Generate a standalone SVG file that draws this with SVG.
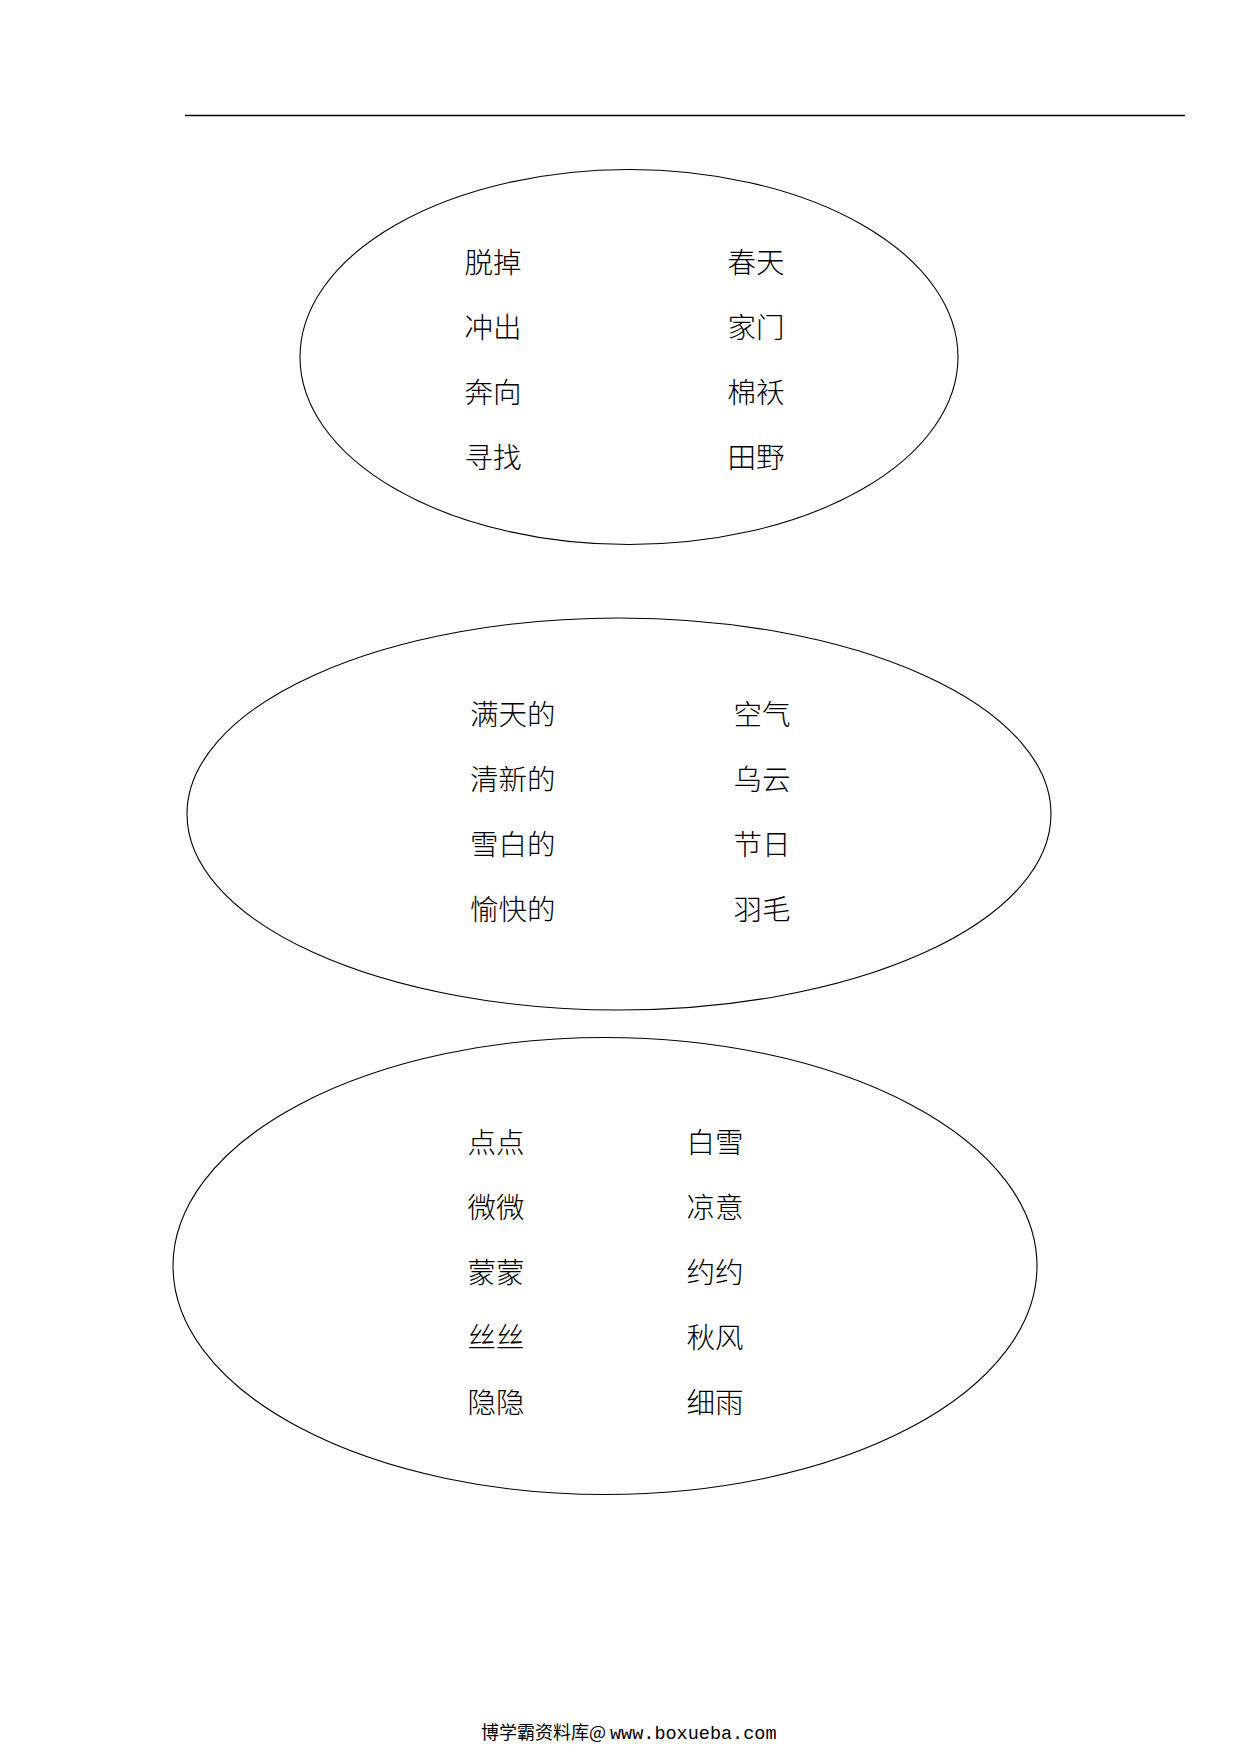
<svg xmlns="http://www.w3.org/2000/svg" width="1241" height="1754" viewBox="0 0 1241 1754">
<style>
.bg{fill:#ffffff}
.oval{fill:none;stroke:#000000;stroke-width:1.1}
.rule{stroke:#000000;stroke-width:1.6}
.w{font-family:"Noto Sans CJK SC","Noto Sans CJK TC",sans-serif;font-size:28.5px;font-weight:300;fill:#000000}
.f{font-family:"Noto Sans CJK SC",sans-serif;font-size:18px;fill:#000000}
.m{font-family:"Liberation Mono",monospace;font-size:18.5px}
</style>
<rect class="bg" x="0" y="0" width="1241" height="1754"/>
<line id="header-rule" class="rule" x1="185" y1="115.5" x2="1185" y2="115.5"/>
<g id="connectors"></g>
<g id="oval-1">
<ellipse class="oval" cx="629" cy="357" rx="329" ry="187.5"/>
<text class="w" x="464.5" y="272.5">脱掉</text>
<text class="w" x="464.5" y="337.5">冲出</text>
<text class="w" x="464.5" y="402.5">奔向</text>
<text class="w" x="464.5" y="467.5">寻找</text>
<text class="w" x="727.5" y="272.5">春天</text>
<text class="w" x="727.5" y="337.5">家门</text>
<text class="w" x="727.5" y="402.5">棉袄</text>
<text class="w" x="727.5" y="467.5">田野</text>
</g>
<g id="oval-2">
<ellipse class="oval" cx="619" cy="814" rx="432" ry="196"/>
<text class="w" x="470" y="725">满天的</text>
<text class="w" x="470" y="790">清新的</text>
<text class="w" x="470" y="855">雪白的</text>
<text class="w" x="470" y="920">愉快的</text>
<text class="w" x="733.5" y="725">空气</text>
<text class="w" x="733.5" y="790">乌云</text>
<text class="w" x="733.5" y="855">节日</text>
<text class="w" x="733.5" y="920">羽毛</text>
</g>
<g id="oval-3">
<ellipse class="oval" cx="605" cy="1266" rx="432" ry="228.5"/>
<text class="w" x="467.5" y="1152.5">点点</text>
<text class="w" x="467.5" y="1217.5">微微</text>
<text class="w" x="467.5" y="1282.5">蒙蒙</text>
<text class="w" x="467.5" y="1347.5">丝丝</text>
<text class="w" x="467.5" y="1412.5">隐隐</text>
<text class="w" x="686.5" y="1152.5">白雪</text>
<text class="w" x="686.5" y="1217.5">凉意</text>
<text class="w" x="686.5" y="1282.5">约约</text>
<text class="w" x="686.5" y="1347.5">秋风</text>
<text class="w" x="686.5" y="1412.5">细雨</text>
</g>
<g id="footer">
<text class="f" x="481" y="1738.5">博学霸资料库@<tspan class="m" x="610">www.boxueba.com</tspan></text>
</g>
</svg>
